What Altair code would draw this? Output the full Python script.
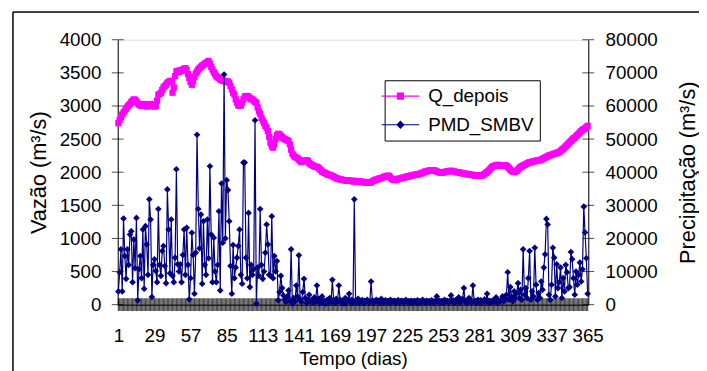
import altair as alt
import pandas as pd

# ---------------- data ----------------
days = list(range(1, 366))
x_tick_labels = [1, 29, 57, 85, 113, 141, 169, 197, 225, 253, 281, 309, 337, 365]
left_ticks = [0, 500, 1000, 1500, 2000, 2500, 3000, 3500, 4000]
right_ticks = [0, 10000, 20000, 30000, 40000, 50000, 60000, 70000, 80000]
series_names = ["Q_depois", "PMD_SMBV"]
series_colors = ["#FF00FF", "#000080"]

q_depois = [
    2740, 2790, 2830, 2870, 2900, 2930, 2960, 2990, 3010, 3030,
    3060, 3080, 3100, 3090, 3070, 3040, 3020, 3010, 3000, 3020,
    3030, 3010, 2990, 3000, 3020, 3030, 3010, 3000, 2990, 3000,
    3080, 3170, 3180, 3200, 3240, 3280, 3300, 3320, 3350, 3360,
    3380, 3370, 3200, 3280, 3450, 3520, 3530, 3510, 3540, 3530,
    3550, 3560, 3570, 3540, 3480, 3420, 3360, 3320, 3380, 3440,
    3490, 3520, 3550, 3570, 3590, 3610, 3620, 3640, 3650, 3660,
    3680, 3640, 3590, 3550, 3510, 3480, 3450, 3430, 3420, 3400,
    3390, 3380, 3380, 3370, 3370, 3370, 3350, 3300, 3250, 3200,
    3170, 3100, 3050, 3010, 3000, 3010, 3050, 3100, 3140, 3150,
    3150, 3140, 3120, 3100, 3100, 3080, 3060, 3050, 2980, 2920,
    2880, 2820, 2780, 2740, 2700, 2670, 2620, 2530, 2440, 2390,
    2370, 2420, 2500, 2560, 2580, 2570, 2550, 2530, 2510, 2500,
    2490, 2480, 2470, 2420, 2340, 2280, 2250, 2230, 2220, 2210,
    2190, 2170, 2150, 2160, 2170, 2180, 2180, 2170, 2140, 2120,
    2110, 2100, 2090, 2080, 2080, 2070, 2050, 2030, 2010, 2000,
    1990, 1980, 1970, 1960, 1960, 1950, 1940, 1930, 1920, 1910,
    1900, 1900, 1890, 1890, 1880, 1880, 1880, 1870, 1880, 1870,
    1870, 1870, 1860, 1860, 1870, 1860, 1860, 1860, 1850, 1860,
    1850, 1850, 1840, 1850, 1840, 1840, 1850, 1860, 1870, 1880,
    1890, 1890, 1900, 1910, 1910, 1920, 1930, 1930, 1940, 1950,
    1940, 1920, 1900, 1890, 1880, 1880, 1890, 1900, 1900, 1910,
    1910, 1920, 1920, 1930, 1930, 1940, 1940, 1950, 1950, 1960,
    1960, 1960, 1970, 1970, 1980, 1980, 1990, 2000, 2010, 2010,
    2020, 2020, 2030, 2030, 2030, 2030, 2020, 2010, 2000, 2000,
    1990, 1990, 2000, 2000, 2010, 2010, 2010, 2020, 2020, 2020,
    2010, 2010, 2000, 2000, 2000, 1990, 1990, 1980, 1980, 1980,
    1970, 1970, 1970, 1960, 1960, 1960, 1950, 1950, 1950, 1950,
    1950, 1950, 1950, 1960, 1970, 1990, 2000, 2020, 2040, 2060,
    2080, 2090, 2100, 2100, 2110, 2110, 2100, 2100, 2100, 2100,
    2100, 2100, 2080, 2060, 2040, 2020, 2010, 2000, 2010, 2020,
    2040, 2060, 2080, 2090, 2100, 2110, 2120, 2130, 2140, 2150,
    2150, 2160, 2160, 2170, 2170, 2180, 2180, 2180, 2190, 2200,
    2210, 2220, 2230, 2240, 2250, 2260, 2260, 2270, 2280, 2280,
    2290, 2300, 2300, 2320, 2340, 2350, 2370, 2390, 2410, 2430,
    2450, 2470, 2490, 2510, 2520, 2540, 2560, 2580, 2600, 2620,
    2640, 2650, 2660, 2680, 2700,
]

pmd_smbv = [
    4000, 9800, 16700, 4000, 26000, 14700, 7800, 16700, 12000, 21200,
    22200, 6800, 19700, 11000, 26200, 1300, 10700, 14700, 8000, 22700,
    4800, 23700, 18200, 9000, 31800, 25700, 2300, 12000, 13700, 10200,
    6800, 28900, 12000, 8700, 16200, 17700, 11700, 6500, 34800, 22700,
    9500, 25700, 8700, 6800, 14200, 40900, 12200, 10000, 12200, 6800,
    15000, 22700, 9000, 23200, 12000, 1600, 8000, 21700, 15000, 3300,
    15700, 51300, 28900, 17000, 27200, 6300, 25200, 12000, 9000, 25700,
    14000, 41800, 21200, 6800, 20200, 10000, 6800, 12000, 28200, 4300,
    36600, 18700, 69500, 20000, 37600, 34600, 25200, 11700, 3300, 18000,
    8000, 11200, 14200, 17700, 22700, 9000, 6300, 42900, 42900, 14200,
    8000, 27700, 5300, 12000, 9000, 10700, 55700, 300, 11200, 8700,
    28900, 12000, 7800, 10000, 15700, 24200, 18200, 9000, 8700, 26700,
    8000, 14700, 10000, 13200, 1300, 3800, 8700, 5000, 2800, 1500,
    800, 2500, 4300, 1200, 16700, 300, 2000, 1000, 5800, 2500,
    14900, 1500, 800, 3800, 7800, 2000, 500, 1200, 3000, 800,
    1500, 600, 2200, 1000, 5800, 1800, 400, 900, 2500, 600,
    1000, 300, 1500, 700, 2000, 800, 7500, 1200, 500, 1800,
    900, 5800, 1500, 600, 1100, 400, 2000, 700, 1000, 3300,
    800, 1500, 500, 31800, 1200, 700, 1800, 500, 1000, 1400,
    600, 1200, 800, 1500, 900, 700, 7000, 1200, 600, 1000,
    1500, 900, 1200, 600, 1800, 1000, 700, 1300, 900, 1100,
    600, 1500, 800, 1000, 1200, 500, 900, 1400, 700, 1000,
    1200, 600, 900, 1500, 800, 1000, 700, 1200, 500, 900,
    1100, 700, 1300, 600, 1000, 800, 1500, 900, 600, 1200,
    800, 1000, 700, 1300, 900, 600, 1100, 2500, 800, 1200,
    700, 1000, 600, 1500, 900, 1200, 700, 1000, 2800, 800,
    1300, 600, 1500, 900, 2200, 700, 1000, 1800, 5000, 800,
    1200, 600, 2000, 1000, 700, 5800, 900, 1200, 600, 1500,
    800, 1300, 700, 1000, 1600, 900, 3300, 700, 1200, 600,
    1000, 1500, 800, 2200, 600, 1200, 900, 1500, 2500, 1000,
    2000, 3000, 9800, 1500, 5300, 2500, 1000, 4000, 2000, 3500,
    6500, 2000, 4500, 1500, 16700, 3000, 5000, 2000, 8000, 16200,
    1500, 4000, 2500, 17200, 6000, 1500, 3500, 2000, 7000, 4500,
    11200, 15200, 25900, 24200, 3000, 1500, 6000, 17200, 14200, 2500,
    12200, 5000, 6800, 11200, 2000, 8000, 4000, 12000, 9800, 5000,
    5300, 15900, 13700, 8000, 3000, 10000, 6000, 9000, 12700, 7000,
    10700, 29600, 21800, 14000, 3300,
]

# legend symbols: a short line with the series marker on it
legend_paths = [
    "M-1.9,-0.06H1.9V0.06H-1.9Z M-0.36,-0.36H0.36V0.36H-0.36Z",
    "M-1.9,-0.06H1.9V0.06H-1.9Z M0,-0.42L0.42,0L0,0.42L-0.42,0Z",
]

df = pd.DataFrame({"day": days, "q": q_depois, "pmd": pmd_smbv})
left_df = pd.DataFrame({"v": left_ticks})
right_df = pd.DataFrame({"v": right_ticks})
legend_df = pd.DataFrame({"series": series_names})

FONT = "Liberation Sans"
x_scale = alt.Scale(domain=[0.5, 365.5], nice=False, zero=False)
yl_scale = alt.Scale(domain=[0, 4000], nice=False)
yr_scale = alt.Scale(domain=[0, 80000], nice=False)

common = dict(
    grid=False, domainColor="black", labelFont=FONT, titleFont=FONT,
    labelColor="black", titleColor="black", titleFontWeight="normal",
    labelFlush=False, labelOverlap=False, ticks=False, tickSize=0, format="d",
)

x_axis = alt.Axis(
    values=x_tick_labels, title="Tempo (dias)", labelPadding=22, titlePadding=5,
    labelFontSize=19, titleFontSize=19, **common,
)
yl_axis = alt.Axis(
    values=left_ticks, title="Vazão (m³/s)", orient="left", labelPadding=17,
    titlePadding=9, labelFontSize=19, titleFontSize=22, **common,
)
yr_axis = alt.Axis(
    values=right_ticks, title="Precipitação (m³/s)", orient="right", labelPadding=17,
    titlePadding=21, titleAngle=270, titleBaseline="top", labelFontSize=19,
    titleFontSize=22, **common,
)

frame = alt.Chart(legend_df).mark_rect(
    filled=False, stroke="black", strokeWidth=1
).encode(
    x=alt.value(-106), x2=alt.value(700), y=alt.value(-28), y2=alt.value(600)
)

band = alt.Chart(df).mark_tick(
    orient="vertical", size=13, thickness=1.2, color="black"
).encode(
    x=alt.X("day:Q", scale=x_scale, axis=x_axis),
    y=alt.datum(0, scale=yl_scale, axis=yl_axis),
)

left_cross = alt.Chart(left_df).mark_tick(
    orient="horizontal", size=12, thickness=1, color="black"
).encode(
    x=alt.datum(0.5, scale=x_scale, axis=x_axis),
    y=alt.Y("v:Q", scale=yl_scale, axis=yl_axis),
)

q_line = alt.Chart(df).mark_line(
    color="#FF00FF", strokeWidth=1.5,
    point=alt.OverlayMarkDef(shape="square", size=40, filled=True, color="#FF00FF"),
).encode(
    x=alt.X("day:Q", scale=x_scale, axis=x_axis),
    y=alt.Y("q:Q", scale=yl_scale, axis=yl_axis),
)

leg = alt.Legend(
    title=None, orient="none", legendX=270, legendY=41,
    strokeColor="black", fillColor="white", padding=6, rowPadding=9,
    labelFontSize=19, labelFont=FONT, labelColor="black", labelOffset=18,
    symbolSize=400, symbolOpacity=1, symbolStrokeWidth=0, cornerRadius=0,
)

legend_layer = alt.Chart(legend_df).mark_point(
    filled=True, opacity=0, size=400
).encode(
    color=alt.Color("series:N", scale=alt.Scale(domain=series_names, range=series_colors), legend=leg, sort=series_names),
    shape=alt.Shape("series:N", scale=alt.Scale(domain=series_names, range=legend_paths), legend=leg, sort=series_names),
)

pmd_line = alt.Chart(df).mark_line(
    color="#000080", strokeWidth=1.2,
    point=alt.OverlayMarkDef(shape="diamond", size=45, filled=True, color="#000080"),
).encode(
    x=alt.X("day:Q", scale=x_scale, axis=x_axis),
    y=alt.Y("pmd:Q", scale=yr_scale, axis=yr_axis),
)

right_cross = alt.Chart(right_df).mark_tick(
    orient="horizontal", size=12, thickness=1, color="black"
).encode(
    x=alt.datum(365.5, scale=x_scale, axis=x_axis),
    y=alt.Y("v:Q", scale=yr_scale, axis=yr_axis),
)

left_group = alt.layer(frame, band, left_cross, q_line, legend_layer)
right_group = alt.layer(pmd_line, right_cross)

chart = alt.layer(left_group, right_group).resolve_scale(
    y="independent"
).properties(
    width=476, height=268,
    autosize=alt.AutoSizeParams(type="none"),
    padding={"left": 111, "top": 30, "right": 112, "bottom": 65},
    background="white",
).configure_view(
    stroke="#a0a0a0", strokeWidth=1
).configure(font=FONT)

chart.save("out.html", embed_options={"renderer": "svg", "actions": False})

# keep the page from showing scrollbars when the chart reaches the window edge
with open("out.html", encoding="utf-8") as f:
    html = f.read()
html = html.replace("<head>", "<head><style>html,body{overflow:hidden}</style>", 1)
with open("out.html", "w", encoding="utf-8") as f:
    f.write(html)
